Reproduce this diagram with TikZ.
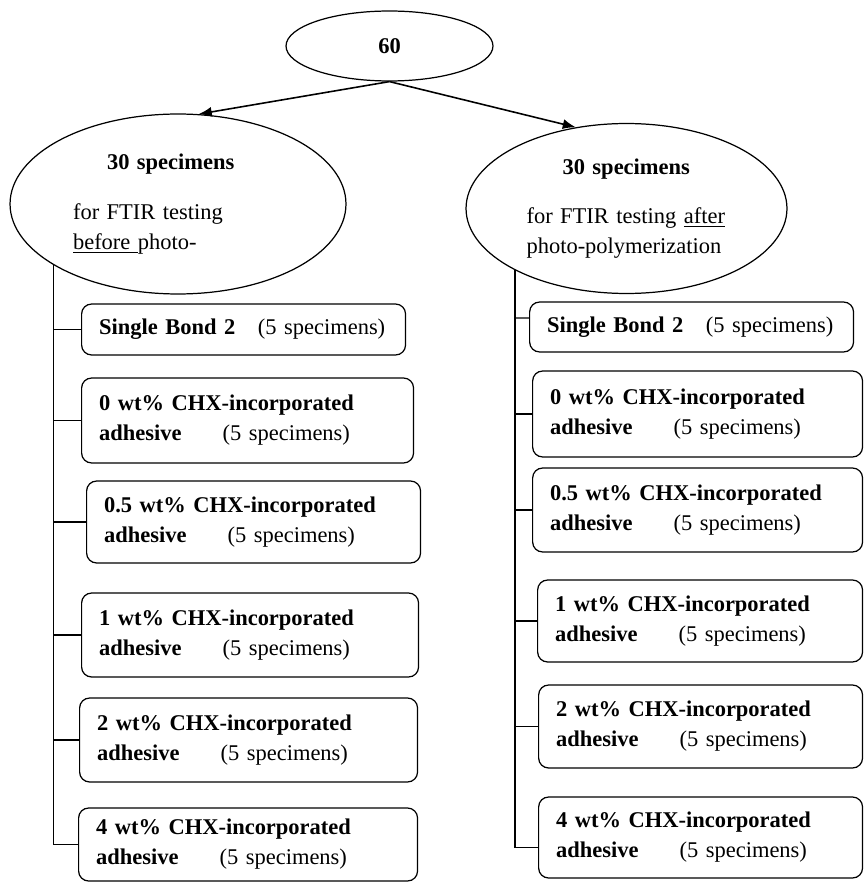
\documentclass[tikz,border=0pt]{standalone}
\usepackage{fontspec}
\setmainfont{Liberation Serif}
\usepackage{tikz}
\usetikzlibrary{arrows.meta, shapes.geometric}

\newcommand{\chxtext}[1]{\textbf{#1 wt\% CHX-incorporated}\\\textbf{adhesive}\hspace{0.67cm} (5 specimens)}
\newcommand{\sbtext}{\mbox{\textbf{Single Bond 2}\hspace{0.3cm} (5 specimens)}}

\begin{document}
\begin{tikzpicture}[
  x=0.02cm, y=-0.02cm,
  >={Latex[length=0.26cm,width=0.2cm]},
  oval/.style={ellipse, draw=black, line width=0.7pt, inner sep=1pt, font=\fontsize{12.8}{17}\selectfont},
  grp/.style={rectangle, rounded corners=0.2cm, draw=black, line width=0.7pt, anchor=west, align=left,
    inner xsep=0.35cm, inner ysep=0pt, font=\fontsize{12.8}{17}\selectfont}
]
  \useasboundingbox (0,0) rectangle (864,885);

  % top and the two groups
  \node[oval, minimum width=4.14cm, minimum height=1.4cm] (top) at (389.5,46) {\textbf{60}\hspace{1.94cm}};
  \node[oval, minimum width=6.72cm, minimum height=3.6cm, text width=4.2cm, align=left] (l1) at (178,204)
    {\hspace*{0.68cm}\textbf{30 specimens}\\[0.4cm]for FTIR testing\\\underline{before\ }photo-};
  \node[oval, minimum width=6.42cm, minimum height=3.4cm, text width=4.0cm, align=left] (r1) at (626.5,208.5)
    {\hspace*{0.72cm}\textbf{30 specimens}\\[0.4cm]for FTIR testing \underline{after}\\photo-polymerization};

  \draw[->, line width=0.9pt] (top.south) -- (l1.77);
  \draw[->, line width=0.9pt] (top.south) -- (r1.122);

  % left column
  \node[grp, text width=5.78cm, minimum height=1.02cm] (lb1) at (81,329.5) {\sbtext};
  \node[grp, text width=5.94cm, minimum height=1.70cm] (lb2) at (81,420.5) {\chxtext{0}};
  \node[grp, text width=5.98cm, minimum height=1.64cm] (lb3) at (86,522) {\chxtext{0.5}};
  \node[grp, text width=6.04cm, minimum height=1.68cm] (lb4) at (81,635) {\chxtext{1}};
  \node[grp, text width=6.06cm, minimum height=1.68cm] (lb5) at (79,740) {\chxtext{2}};
  \node[grp, text width=6.08cm, minimum height=1.46cm] (lb6) at (78,844.5) {\chxtext{4}};

  % right column
  \node[grp, text width=5.78cm, minimum height=1.00cm] (rb1) at (529,327) {\sbtext};
  \node[grp, text width=5.90cm, minimum height=1.72cm] (rb2) at (532,414) {\chxtext{0}};
  \node[grp, text width=5.90cm, minimum height=1.68cm] (rb3) at (532,510) {\chxtext{0.5}};
  \node[grp, text width=5.80cm, minimum height=1.64cm] (rb4) at (537,621) {\chxtext{1}};
  \node[grp, text width=5.78cm, minimum height=1.66cm] (rb5) at (538,726.5) {\chxtext{2}};
  \node[grp, text width=5.78cm, minimum height=1.62cm] (rb6) at (538,837.5) {\chxtext{4}};

  % trunks and branches
  \draw[line width=0.7pt] (l1.206) -- (l1.206 |- lb6.west) -- (lb6.west);
  \foreach \i in {1,...,5}
    \draw[line width=0.7pt] (l1.206 |- lb\i.west) -- (lb\i.west);

  \coordinate (rbot) at ([yshift=-0.2cm]rb6.west);
  \draw[line width=0.7pt] (r1.209) -- (r1.209 |- rbot) -- (rbot);
  \draw[line width=0.7pt] (r1.209 |- rb1.west) ++(0,-9) -- ([yshift=0.18cm]rb1.west);
  \foreach \i in {2,...,5}
    \draw[line width=0.7pt] (r1.209 |- rb\i.west) -- (rb\i.west);
\end{tikzpicture}
\end{document}
